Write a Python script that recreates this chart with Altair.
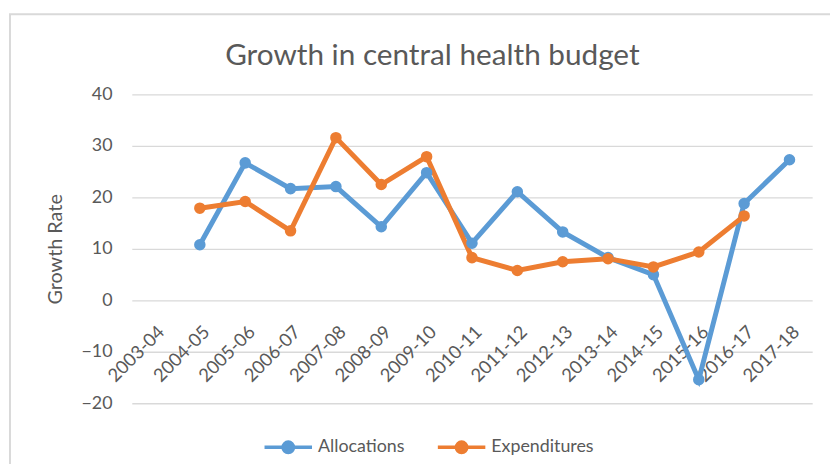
import altair as alt
import pandas as pd

years = ["2003-04", "2004-05", "2005-06", "2006-07", "2007-08", "2008-09", "2009-10",
         "2010-11", "2011-12", "2012-13", "2013-14", "2014-15", "2015-16", "2016-17", "2017-18"]
allocations = [None, 10.8, 26.7, 21.7, 22.1, 14.3, 24.8, 11.1, 21.1, 13.3, 8.3, 5.0, -15.4, 18.8, 27.3]
expenditures = [None, 17.9, 19.2, 13.5, 31.6, 22.5, 27.9, 8.3, 5.8, 7.5, 8.1, 6.5, 9.4, 16.4, None]
series = ["Allocations", "Expenditures"]
colors = ["#5B9BD5", "#ED7D31"]
y_ticks = [-20, -10, 0, 10, 20, 30, 40]

rows = []
for name, vals in zip(series, [allocations, expenditures]):
    for yr, v in zip(years, vals):
        if v is not None:
            rows.append({"Year": yr, "Series": name, "Value": v})
df = pd.DataFrame(rows)

FONT = "Lato"
TXT = "#595959"

legend_path = ("M-1,0L1,0 M-0.22,0 A0.22,0.22 0 1,1 0.22,0 A0.22,0.22 0 1,1 -0.22,0 Z")

lines = alt.Chart(df).mark_line(
    strokeWidth=5,
    point=alt.OverlayMarkDef(filled=True, size=135),
).encode(
    x=alt.X("Year:N", sort=years,
            scale=alt.Scale(domain=years, padding=0.5),
            axis=alt.Axis(title=None, labelAngle=-45, labelAlign="right", labelBaseline="top",
                          offset=-104, domain=False, ticks=False, labelPadding=22,
                          labelFontSize=18.5, labelColor=TXT, labelFont=FONT, labelOverlap=False)),
    y=alt.Y("Value:Q", scale=alt.Scale(domain=[-20, 40], nice=False),
            axis=alt.Axis(title="Growth Rate", values=y_ticks, domain=False, ticks=False,
                          labelPadding=20, labelFontSize=18, labelColor=TXT, labelFont=FONT,
                          titleFontSize=20, titleColor=TXT, titleFont=FONT, titleFontWeight="normal",
                          titlePadding=16, gridColor="#D9D9D9", gridWidth=1.5)),
    color=alt.Color("Series:N", scale=alt.Scale(domain=series, range=colors),
                    legend=alt.Legend(title=None, orient="none", direction="horizontal",
                                      legendX=132, legendY=330,
                                      symbolType=legend_path, symbolSize=2300, symbolStrokeWidth=3.5,
                                      labelFontSize=18, labelColor=TXT, labelFont=FONT,
                                      labelOffset=4, columnPadding=26)),
)

border = alt.Chart(pd.DataFrame({"a": [0]})).mark_rect(
    fill=None, stroke="#D9D9D9", strokeWidth=2
).encode(x=alt.value(-123), x2=alt.value(900), y=alt.value(-81), y2=alt.value(600))

chart = alt.layer(border, lines).properties(
    width=687, height=312,
    title=alt.TitleParams("Growth in central health budget", fontSize=30, font=FONT,
                          color=TXT, fontWeight="normal", dx=-40, dy=80, offset=22),
    autosize=alt.AutoSizeParams(type="none"),
    padding={"left": 125, "top": 85, "right": 18, "bottom": 59},
).configure_view(stroke=None)

chart.save("out.html", embed_options={"renderer": "svg", "actions": False})
